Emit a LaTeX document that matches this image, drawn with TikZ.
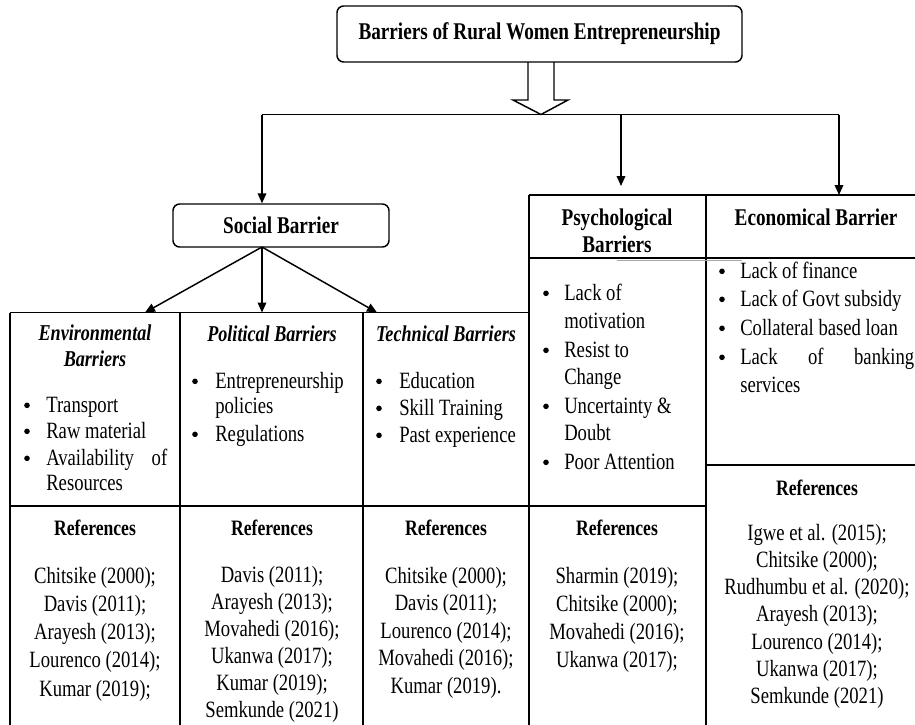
\documentclass[tikz,border=0pt]{standalone}
\usepackage{fontspec}
\setmainfont[FakeStretch=0.8]{Liberation Serif}
\usetikzlibrary{arrows.meta,calc}
\begin{document}
\begin{tikzpicture}[x=0.75pt,y=-0.75pt,
  every node/.style={inner sep=0pt, font=\fontsize{17.5pt}{20pt}\selectfont},
  ln/.style={line width=1.1pt},
  arr/.style={line width=1.1pt,-{Triangle[length=7.5pt,width=6.5pt]}},
  hd/.style={font=\fontsize{18pt}{20pt}\selectfont\bfseries},
  colhd/.style={font=\fontsize{17pt}{20pt}\selectfont\bfseries\itshape},
  refhd/.style={font=\fontsize{16.5pt}{20pt}\selectfont\bfseries},
  txt/.style={anchor=base},
  btxt/.style={anchor=base west},
  bdot/.style={circle, fill=black, minimum size=4.2pt, yshift=5pt},
  rbox/.style={draw, line width=1.1pt, rounded corners=5pt}
]
\useasboundingbox (0,0) rectangle (915,725);
\fill[white] (0,0) rectangle (915,725);

% top nodes
\node[rbox, hd, minimum width=303.75pt, minimum height=42pt] (title) at (539.5,34) {Barriers of Rural Women Entrepreneurship};
\node[rbox, hd, minimum width=162pt, minimum height=32.25pt] (social) at (281,225.5) {Social Barrier};

% hollow arrow
\draw[ln, line join=miter] (528,62) -- (528,100) -- (513,100) -- (541,114.5) -- (568,100) -- (554,100) -- (554,62);

% distribution line
\coordinate (jL) at (262,114.5);
\coordinate (jP) at (621,114.5);
\coordinate (jE) at (839,114.5);
\coordinate (pTip) at (621,186);
\coordinate (eTop) at (839,195);
\draw[ln] (jL) -- (jE);
\draw[arr] (jL) -- (jL |- social.north);
\draw[arr] (jP) -- (pTip);
\draw[arr] (jE) -- (eTop);

% social arrows
\coordinate (sb) at (262,247);
\coordinate (envTop) at (145,312.5);
\coordinate (polTop) at (262,312.5);
\coordinate (tecTop) at (377,312.5);
\draw[arr] (sb) -- (envTop);
\draw[arr] (sb) -- (polTop);
\draw[arr] (sb) -- (tecTop);

% table lines
\draw[ln] (10,312.5) -- (529,312.5);
\draw[ln] (10,506) -- (706,506);
\draw[ln] (529,195) -- (916,195);
\draw[ln] (529,258) -- (916,258);
\draw[ln] (706,465) -- (916,465);
\foreach \xx in {10,180,363} \draw[ln] (\xx,312.5) -- (\xx,727);
\draw[ln] (529,195) -- (529,727);
\draw[ln] (706,195) -- (706,727);
\draw[gray!70, line width=0.6pt] (617,260.5) -- (742,260.5);

% headings
\node[colhd,txt] (envh1) at (95,340) {Environmental};
\node[colhd,txt] (envh2) at (95,366) {Barriers};
\node[colhd,txt] (polh) at (272,341) {Political Barriers};
\node[colhd,txt] (tech) at (446,341) {Technical Barriers};
\node[hd,txt] (psyh1) at (617,225) {Psychological};
\node[hd,txt] (psyh2) at (617,252) {Barriers};
\node[hd,txt] (ecoh) at (816,225) {Economical Barrier};

% environmental bullets
\foreach \yy [count=\i] in {412,438,465} \node[bdot] (envd\i) at (27,\yy) {};
\node[btxt] (envb1) at (46,412) {Transport};
\node[btxt] (envb2) at (46,438) {Raw material};
\node[btxt] (envb3) at (46,465) {\makebox[90.75pt][s]{Availability\hfill of}};
\node[btxt] (envb4) at (46,490) {Resources};

% political bullets
\foreach \yy [count=\i] in {388,441} \node[bdot] (pold\i) at (195,\yy) {};
\node[btxt] (polb1) at (215,388) {Entrepreneurship};
\node[btxt] (polb2) at (215,413) {policies};
\node[btxt] (polb3) at (215,441) {Regulations};

% technical bullets
\foreach \yy [count=\i] in {388,415,442} \node[bdot] (tecd\i) at (379,\yy) {};
\node[btxt] (tecb1) at (399,388) {Education};
\node[btxt] (tecb2) at (399,415) {Skill Training};
\node[btxt] (tecb3) at (399,442) {Past experience};

% psychological bullets
\foreach \yy [count=\i] in {300,357,413,469} \node[bdot] (psyd\i) at (546,\yy) {};
\node[btxt] (psyb1) at (564,300) {Lack of};
\node[btxt] (psyb2) at (564,328) {motivation};
\node[btxt] (psyb3) at (564,357) {Resist to};
\node[btxt] (psyb4) at (564,384) {Change};
\node[btxt] (psyb5) at (564,413) {Uncertainty \&};
\node[btxt] (psyb6) at (564,440) {Doubt};
\node[btxt] (psyb7) at (564,469) {Poor Attention};

% economical bullets
\foreach \yy [count=\i] in {278,306,335,364} \node[bdot] (ecod\i) at (722,\yy) {};
\node[btxt] (ecob1) at (740,278) {Lack of finance};
\node[btxt] (ecob2) at (740,306) {Lack of Govt subsidy};
\node[btxt] (ecob3) at (740,335) {Collateral based loan};
\node[btxt] (ecob4) at (740,364) {\makebox[130.5pt][s]{Lack\hfill of\hfill banking}};
\node[btxt] (ecob5) at (740,392) {services};

% references
\node[refhd,txt] (envrh) at (95,535) {References};
\node[refhd,txt] (polrh) at (272,535) {References};
\node[refhd,txt] (tecrh) at (446,535) {References};
\node[refhd,txt] (psyrh) at (617,535) {References};
\node[refhd,txt] (ecorh) at (817,495) {References};

\foreach \t [count=\i from 0] in {{Chitsike (2000);},{Davis (2011);},{Arayesh (2013);},{Lourenco (2014);},{Kumar (2019);}}
  \node[txt] (envr\i) at (95,583+\i*28.3) {\t};
\foreach \t [count=\i from 0] in {{Davis (2011);},{Arayesh (2013);},{Movahedi (2016);},{Ukanwa (2017);},{Kumar (2019);},{Semkunde (2021)}}
  \node[txt] (polr\i) at (272,582+\i*27) {\t};
\foreach \t [count=\i from 0] in {{Chitsike (2000);},{Davis (2011);},{Lourenco (2014);},{Movahedi (2016);},{Kumar (2019).}}
  \node[txt] (tecr\i) at (446,583+\i*27.5) {\t};
\foreach \t [count=\i from 0] in {{Sharmin (2019);},{Chitsike (2000);},{Movahedi (2016);},{Ukanwa (2017);}}
  \node[txt] (psyr\i) at (617,583+\i*28.3) {\t};
\foreach \t [count=\i from 0] in {{Igwe et al. (2015);},{Chitsike (2000);},{Rudhumbu et al. (2020);},{Arayesh (2013);},{Lourenco (2014);},{Ukanwa (2017);},{Semkunde (2021)}}
  \node[txt] (ecor\i) at (817,540+\i*27.3) {\t};
\end{tikzpicture}
\end{document}
